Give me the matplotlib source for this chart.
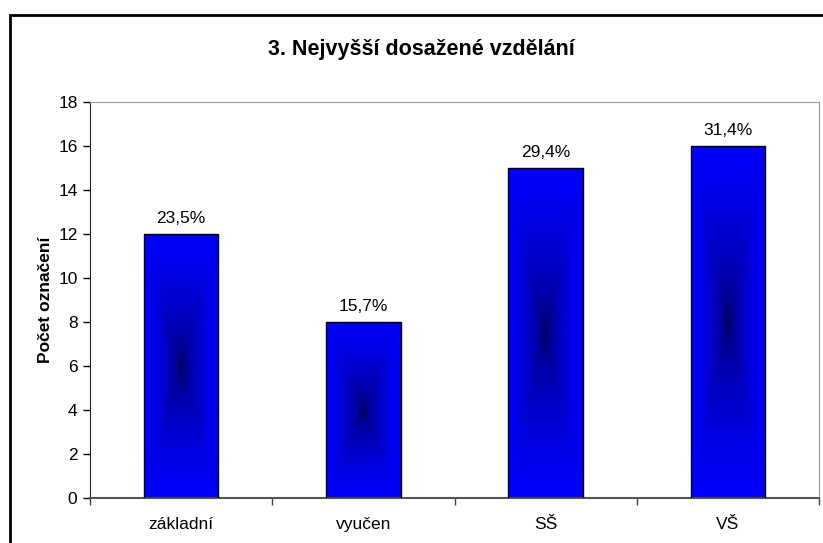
import numpy as np
import matplotlib.pyplot as plt
from matplotlib.patches import Rectangle

# data
categories = ["základní", "vyučen", "SŠ", "VŠ"]
counts = [12, 8, 15, 16]
percent_labels = ["23,5%", "15,7%", "29,4%", "31,4%"]

plt.rcParams['font.family'] = ['Liberation Sans', 'DejaVu Sans']

fig = plt.figure(figsize=(8.23, 5.43), dpi=100)
ax = fig.add_axes([90 / 823, 45 / 543, 729 / 823, 396 / 543])

x = np.arange(len(categories))
width = 0.41
bars = ax.bar(x, counts, width=width, facecolor='none', edgecolor='black', linewidth=1.0, zorder=3)

# "from center" gradient fill like Excel
n = 200
u = np.linspace(-1, 1, n)
U, V = np.meshgrid(u, u)
t = np.maximum(np.abs(U), np.abs(V))
t = np.clip(t, 0, 1) ** 0.38
grad = np.zeros((n, n, 3))
grad[..., 2] = 0.2 + (1.0 - 0.2) * t

for b in bars:
    x0, y0 = b.get_x(), b.get_y()
    w, h = b.get_width(), b.get_height()
    im = ax.imshow(grad, extent=[x0, x0 + w, y0, y0 + h], aspect='auto', zorder=2, interpolation='bilinear')
    im.set_clip_path(b)

for xi, c, lab in zip(x, counts, percent_labels):
    ax.annotate(lab, (xi, c), xytext=(0, 8), textcoords='offset points',
                ha='center', va='baseline', fontsize=12.5)

ax.set_xlim(-0.5, len(categories) - 0.5)
ax.set_ylim(0, 18)
ax.set_yticks(np.arange(0, 19, 2))
ax.set_xticks(x)
ax.set_xticklabels(categories, fontsize=12.5)
ax.set_xticks(np.arange(-0.5, len(categories), 1.0), minor=True)
ax.tick_params(axis='x', which='major', length=0, pad=14)
ax.tick_params(axis='x', which='minor', length=5, width=1, color='#404040')
ax.tick_params(axis='y', length=5, width=1, labelsize=12.5, pad=4)
ax.set_ylabel("Počet označení", fontsize=12.5, fontweight='bold', labelpad=4)

for s in ['top', 'right']:
    ax.spines[s].set_color('#999999')
ax.spines['left'].set_color('#222222')
ax.spines['bottom'].set_color('#555555')
ax.spines['bottom'].set_linewidth(1.5)

fig.text(421 / 823, 1 - 50 / 543, "3. Nejvyšší dosažené vzdělání", ha='center', va='center',
         fontsize=15.5, fontweight='bold')

# outer chart border
border = Rectangle((10 / 823, -0.1), 1.2, 1.1 - 15 / 543, transform=fig.transFigure,
                   fill=False, edgecolor='black', linewidth=2)
fig.patches.append(border)

fig.savefig("out.png", dpi=100)
